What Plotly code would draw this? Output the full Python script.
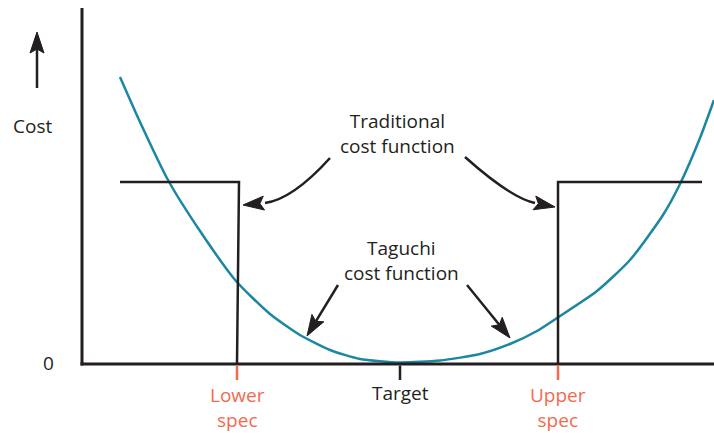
import plotly.graph_objects as go

# Taguchi cost curve
taguchi_x = [120, 140, 168, 200, 236, 270, 300, 330, 360, 400, 440, 480, 510, 537, 557, 597, 630, 663, 680, 700, 714]
taguchi_cost = [287, 242, 184, 133, 83, 50, 29, 14, 5, 1.5, 3.5, 10, 20, 33, 46, 73, 104, 149, 180, 226, 264]

# traditional (step) cost function, left and right pieces
trad_left_x = [120, 239, 237]
trad_left_cost = [182, 182, 0]
trad_right_x = [558, 558, 702]
trad_right_cost = [0, 182, 182]

# marks on the horizontal axis
spec_x = [237, 400, 558]
spec_labels = ["Lower<br>spec", "Target", "Upper<br>spec"]
spec_colors = ["#f26a4f", "#231f20", "#f26a4f"]
spec_label_cost = [-43, -29, -43]

AXIS_X = 82
AXIS_TOP = 356
AXIS_RIGHT = 714

INK = "#231f20"
TEAL = "#1b87a3"
FONT = "Open Sans"


def head_path(tip, d, length=21, half=7, notch=4):
    # slender arrowhead with concave back, d points towards the tip
    n = (-d[1], d[0])
    bx, by = tip[0] - length * d[0], tip[1] - length * d[1]
    p1 = (bx + half * n[0], by + half * n[1])
    p2 = (tip[0] - (length - notch) * d[0], tip[1] - (length - notch) * d[1])
    p3 = (bx - half * n[0], by - half * n[1])
    return f"M {tip[0]},{tip[1]} L {p1[0]},{p1[1]} L {p2[0]},{p2[1]} L {p3[0]},{p3[1]} Z"


def unit(a, b):
    dx, dy = b[0] - a[0], b[1] - a[1]
    m = (dx * dx + dy * dy) ** 0.5
    return (dx / m, dy / m)


fig = go.Figure()

fig.add_trace(go.Scatter(x=taguchi_x, y=taguchi_cost, mode="lines",
                         line=dict(color=TEAL, width=2.5, shape="spline", smoothing=0.6),
                         hoverinfo="skip", showlegend=False))
for xs, ys in [(trad_left_x, trad_left_cost), (trad_right_x, trad_right_cost)]:
    fig.add_trace(go.Scatter(x=xs, y=ys, mode="lines",
                             line=dict(color=INK, width=2.5),
                             hoverinfo="skip", showlegend=False))

shapes = []
# axes
shapes.append(dict(type="line", x0=AXIS_X, y0=AXIS_TOP, x1=AXIS_X, y1=-1.5,
                   xref="x", yref="y", line=dict(color=INK, width=3)))
shapes.append(dict(type="line", x0=AXIS_X - 1.5, y0=0, x1=AXIS_RIGHT, y1=0,
                   xref="x", yref="y", line=dict(color=INK, width=3)))
# ticks
for x, c in zip(spec_x, spec_colors):
    shapes.append(dict(type="line", x0=x, y0=-1.5, x1=x, y1=-16,
                       xref="x", yref="y", line=dict(color=c, width=2.5)))

# curved arrows for the traditional cost function (start, control, end, tip)
curved = [
    ((330, 206), (293, 165), (265, 161), (243, 159)),
    ((465, 207), (511, 166), (535, 161), (555, 157)),
]
for p0, c, p2, tip in curved:
    shapes.append(dict(type="path", path=f"M {p0[0]},{p0[1]} Q {c[0]},{c[1]} {p2[0]},{p2[1]}",
                       xref="x", yref="y", line=dict(color=INK, width=2.5)))
    shapes.append(dict(type="path", path=head_path(tip, unit(p2, tip)),
                       xref="x", yref="y", fillcolor=INK, line=dict(color=INK, width=1)))

# straight arrows (start, tip)
straight = [
    ((338, 79), (307, 28)),
    ((467, 79), (510, 26)),
    ((37, 276), (37, 332)),
]
for s, tip in straight:
    d = unit(s, tip)
    e = (tip[0] - 17 * d[0], tip[1] - 17 * d[1])
    shapes.append(dict(type="line", x0=s[0], y0=s[1], x1=e[0], y1=e[1],
                       xref="x", yref="y", line=dict(color=INK, width=2.5)))
    shapes.append(dict(type="path", path=head_path(tip, d),
                       xref="x", yref="y", fillcolor=INK, line=dict(color=INK, width=1)))

annotations = []


def label(x, y, text, color=INK):
    annotations.append(dict(x=x, y=y, xref="x", yref="y", text=text, showarrow=False,
                            xanchor="center", yanchor="middle", align="center",
                            font=dict(family=FONT, size=19, color=color)))


label(32, 238, "Cost")
label(48, 1, "0")
label(397, 231, "Traditional<br>cost function")
label(401, 104, "Taguchi<br>cost function")
for x, t, c, yc in zip(spec_x, spec_labels, spec_colors, spec_label_cost):
    label(x, yc, t, c)

fig.update_layout(
    width=714, height=433,
    margin=dict(l=0, r=0, t=0, b=0),
    paper_bgcolor="white", plot_bgcolor="white",
    xaxis=dict(range=[0, 714], visible=False, fixedrange=True),
    yaxis=dict(range=[-69, 364], visible=False, fixedrange=True),
    shapes=shapes, annotations=annotations,
)

# drop the browser's default body margin so the figure sits at the page corner
fig.write_html("out.html", config={"displayModeBar": False},
               post_script="document.body.style.margin = '0';")
